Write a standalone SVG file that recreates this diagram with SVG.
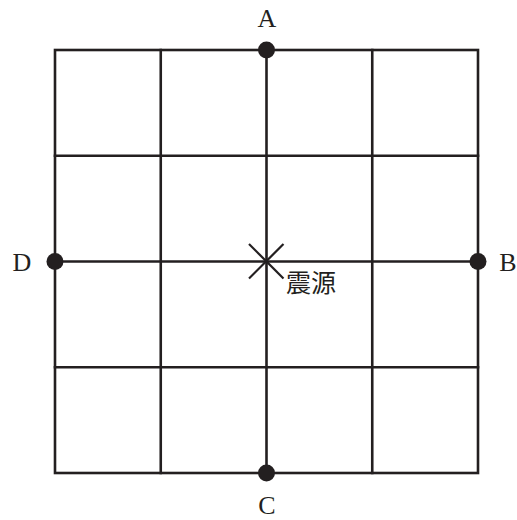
<svg xmlns="http://www.w3.org/2000/svg" width="517" height="520" viewBox="0 0 517 520">
<style>
.g{stroke:#231f20;stroke-width:2.6;fill:none;stroke-linecap:square}
.x{stroke:#231f20;stroke-width:2.2;fill:none}
.dot{fill:#231f20}
.lbl{font-family:"Liberation Serif","Times New Roman",serif;font-size:26px;fill:#231f20;text-anchor:middle}
.jp{font-family:"Noto Sans CJK JP",sans-serif;font-size:25px;fill:#231f20}
</style>
<rect width="517" height="520" fill="#fff"/>
<g id="grid" class="g">
<rect x="55" y="50" width="423" height="423"/>
<line x1="160.75" y1="50" x2="160.75" y2="473"/>
<line x1="266.5" y1="50" x2="266.5" y2="473"/>
<line x1="372.25" y1="50" x2="372.25" y2="473"/>
<line x1="55" y1="155.75" x2="478" y2="155.75"/>
<line x1="55" y1="261.5" x2="478" y2="261.5"/>
<line x1="55" y1="367.25" x2="478" y2="367.25"/>
</g>
<g id="A"><circle class="dot" cx="266.5" cy="50" r="8.5"/><text class="lbl" x="267" y="27">A</text></g>
<g id="B"><circle class="dot" cx="478" cy="261.5" r="8.5"/><text class="lbl" x="508" y="271">B</text></g>
<g id="C"><circle class="dot" cx="266.5" cy="473" r="8.5"/><text class="lbl" x="267" y="514">C</text></g>
<g id="D"><circle class="dot" cx="55" cy="261.5" r="8.5"/><text class="lbl" x="22" y="271">D</text></g>
<g id="epicenter">
<line class="x" x1="249" y1="244" x2="283.5" y2="278.5"/>
<line class="x" x1="283.5" y1="244" x2="249" y2="278.5"/>
<text class="jp" x="286" y="292">震源</text>
</g>
</svg>
